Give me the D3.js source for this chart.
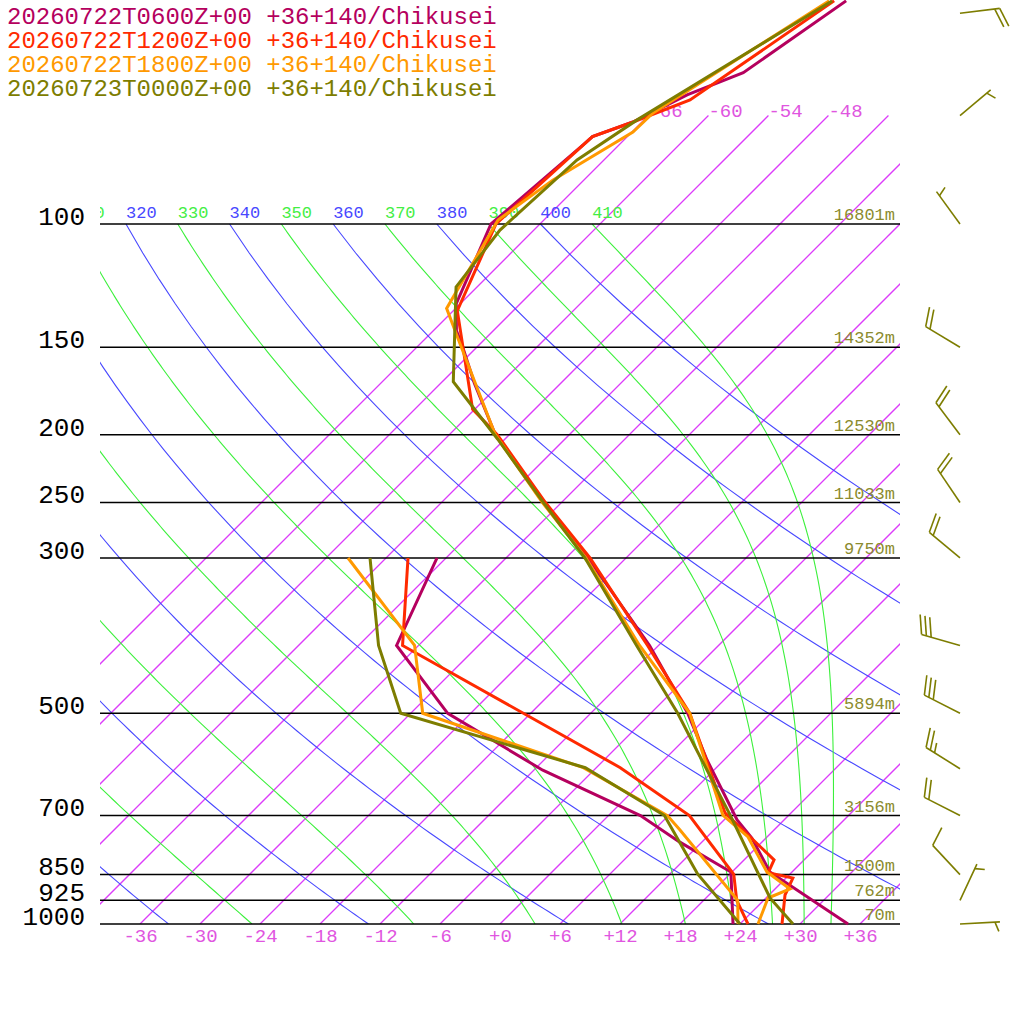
<!DOCTYPE html>
<html>
<head>
<meta charset="UTF-8">
<script src="https://cdn.jsdelivr.net/npm/d3@7"></script>
<style>
  body { margin: 0; padding: 0; background: #fff; }
  svg text { font-family: "Liberation Mono", "DejaVu Sans Mono", monospace; }
</style>
</head>
<body>
<div id="chart"></div>
<script>
// series titles and colours
var titles = ["20260722T0600Z+00 +36+140/Chikusei", "20260722T1200Z+00 +36+140/Chikusei",
              "20260722T1800Z+00 +36+140/Chikusei", "20260723T0000Z+00 +36+140/Chikusei"];
var colors = ["#b5005e", "#ff2a00", "#ff9900", "#7d7d00"];

// temperature profiles: pressure (hPa) and temperature (C)
var tempP = [
  [1000, 843, 754, 710, 583, 500, 400, 300, 250, 199, 169, 150, 142, 130, 100, 77, 75, 71.5, 65.4, 60.8, 48],
  [1000, 909, 860, 845, 810, 694, 500, 400, 300, 250, 200, 184, 133, 100, 75, 71.5, 66.5, 48],
  [1000, 918, 891, 843, 751, 699, 500, 400, 300, 250, 200, 148, 132, 98.7, 86.5, 73.9, 69.4, 48],
  [1000, 918, 700, 500, 400, 300, 250, 203, 168, 123, 102, 81, 71, 48]
];
var tempT = [
  [34.8, 21.8, 16.6, 13.3, 4.3, -2.3, -12.9, -27.8, -37.8, -49.6, -56.6, -61.4, -63.7, -66.4, -70.9, -69.6, -69.5, -66.9, -64.2, -60.8, -57.7],
  [28.2, 25.6, 24.7, 21.7, 21.0, 11.4, -2.1, -13.1, -27.6, -37.6, -49.2, -54.2, -65.6, -70.4, -69.5, -66.9, -63.4, -58.9],
  [25.8, 24.2, 25.5, 21.5, 16.1, 11.4, -2.1, -13.9, -28.0, -37.9, -49.4, -62.1, -66.9, -70.6, -69.1, -65.9, -65.8, -59.4],
  [29.3, 24.4, 12.2, -3.3, -14.2, -28.1, -37.8, -48.7, -58.9, -68.1, -69.4, -68.7, -66.7, -59.1]
];
// dew point profiles
var dewP = [
  [1000, 843, 764, 700, 603, 500, 400, 300],
  [1000, 925, 849, 700, 598, 400, 300],
  [1000, 925, 734, 700, 598, 500, 400, 300],
  [1000, 849, 766, 700, 598, 500, 400, 300]
];
var dewT = [
  [23.3, 17.9, 9.8, 3.2, -11.1, -26.3, -38.2, -42.9],
  [24.8, 21.3, 18.4, 8.1, -3.6, -37.6, -45.8],
  [23.8, 21.4, 8.6, 5.9, -7.3, -28.8, -36.4, -51.8],
  [24.0, 14.8, 9.9, 5.6, -7.1, -31.0, -40.0, -49.6]
];

// pressure levels with heights
var levels = [100, 150, 200, 250, 300, 500, 700, 850, 925, 1000];
var heights = ["16801m", "14352m", "12530m", "11033m", "9750m", "5894m", "3156m", "1500m", "762m", "70m"];

// winds
var windP = [50, 70, 100, 150, 200, 250, 300, 400, 500, 600, 700, 850, 925, 1000];
var windDir = [83, 50, 324, 301, 323, 326, 310, 286, 297, 302, 297, 317, 25, 87];
var windKt = [20, 5, 5, 20, 20, 20, 20, 30, 30, 25, 20, 10, 5, 5];

var tempTicks = d3.range(-36, 37, 6);
var isotherms = d3.range(-66, 37, 6);
var dryTheta = d3.range(240, 401, 20);
var moistTheta = d3.range(250, 411, 20);

var W = 1024, H = 1024;
var svg = d3.select("#chart").append("svg").attr("width", W).attr("height", H);

var y = d3.scaleLog().domain([1000, 100]).range([924, 224]);
var x = d3.scaleLinear().domain([-40, 40]).range([100, 900]);
function sx(T, p) { return x(T) + (924 - y(p)); }

svg.append("defs").append("clipPath").attr("id", "plot")
  .append("rect").attr("x", 100).attr("y", 0).attr("width", 800).attr("height", 924);

var bg = svg.append("g").attr("clip-path", "url(#plot)");

// isotherms
var line = d3.line().x(function(d){ return sx(d[1], d[0]); }).y(function(d){ return y(d[0]); });
bg.selectAll("path.iso").data(isotherms).enter().append("path")
  .attr("class", "iso")
  .attr("d", function(t){ return line([[1000, t], [70, t]]); })
  .attr("fill", "none").attr("stroke", "#dc3cfa").attr("stroke-width", 1.3);
bg.selectAll("text.isolab").data(isotherms.filter(function(d){ return sx(d, 70) < 870; })).enter().append("text")
  .attr("class", "isolab")
  .attr("x", function(d){ return sx(d, 70); }).attr("y", y(70) + 1)
  .attr("font-size", 19).attr("fill", "#e055e0")
  .text(function(d){ return d; });

// dry adiabats
var pr = d3.range(1000, 99, -10);
bg.selectAll("path.dry").data(dryTheta).enter().append("path")
  .attr("class", "dry")
  .attr("d", function(th){ return line(pr.map(function(p){ return [p, th * Math.pow(p / 1000, 0.2857) - 273.15]; })); })
  .attr("fill", "none").attr("stroke", "#4848ff").attr("stroke-width", 1.1);

// moist adiabats, integrated down from 100 hPa
function moist(th) {
  var Rd = 287.04, cp = 1005.7, L = 2.501e6, eps = 0.622;
  var T = th * Math.pow(0.1, 0.2857), p = 100, pts = [[p, T - 273.15]];
  while (p < 1000) {
    var p2 = Math.min(1000, p * 1.01);
    var Tc = T - 273.15;
    var es = 6.112 * Math.exp(17.67 * Tc / (Tc + 243.5));
    var rs = eps * es / (p - es);
    var dTdlnp = (Rd * T + L * rs) / (cp + L * L * rs * eps / (Rd * T * T));
    T += dTdlnp * Math.log(p2 / p);
    p = p2;
    pts.push([p, T - 273.15]);
  }
  return pts;
}
bg.selectAll("path.moist").data(moistTheta).enter().append("path")
  .attr("class", "moist")
  .attr("d", function(th){ return line(moist(th)); })
  .attr("fill", "none").attr("stroke", "#3cf03c").attr("stroke-width", 1.1);

var thLabs = dryTheta.map(function(t){ return {t: t, c: "#4848ff"}; })
  .concat(moistTheta.map(function(t){ return {t: t, c: "#44ee44"}; }))
  .filter(function(d){ return sx(d.t * Math.pow(0.1, 0.2857) - 273.15, 100) > 60; });
bg.selectAll("text.thlab").data(thLabs).enter().append("text")
  .attr("class", "thlab")
  .attr("x", function(d){ return sx(d.t * Math.pow(0.1, 0.2857) - 273.15, 100); })
  .attr("y", 218).attr("font-size", 17).attr("fill", function(d){ return d.c; })
  .text(function(d){ return d.t; });

// pressure lines
svg.selectAll("line.plev").data(levels).enter().append("line")
  .attr("class", "plev")
  .attr("x1", 100).attr("x2", 900)
  .attr("y1", function(d){ return y(d); }).attr("y2", function(d){ return y(d); })
  .attr("stroke", "#000").attr("stroke-width", 1.5);

svg.selectAll("text.hlab").data(levels).enter().append("text")
  .attr("class", "hlab")
  .attr("x", 895).attr("y", function(d){ return y(d) - 4; })
  .attr("text-anchor", "end").attr("font-size", 17).attr("fill", "#8b8b2e")
  .text(function(d, i){ return heights[i]; });

// axes
var yAxis = d3.axisLeft(y).tickValues(levels).tickSize(0).tickFormat(d3.format("d"));
var gy = svg.append("g").attr("transform", "translate(88,-8)").call(yAxis);
gy.select(".domain").remove();
gy.selectAll("text").attr("font-size", 26).attr("fill", "#000")
  .style("font-family", "Liberation Mono, monospace");

var xAxis = d3.axisBottom(x).tickValues(tempTicks).tickSize(0)
  .tickFormat(function(d){ return (d >= 0 ? "+" : "") + d; });
var gx = svg.append("g").attr("transform", "translate(0,926)").call(xAxis);
gx.select(".domain").remove();
gx.selectAll("text").attr("font-size", 19).attr("fill", "#e055e0")
  .style("font-family", "Liberation Mono, monospace");

// profiles
titles.forEach(function(t, i) {
  var tp = tempP[i].map(function(p, j){ return [p, tempT[i][j]]; });
  var dp = dewP[i].map(function(p, j){ return [p, dewT[i][j]]; });
  [tp, dp].forEach(function(pts) {
    svg.append("path").attr("d", line(pts))
      .attr("fill", "none").attr("stroke", colors[i]).attr("stroke-width", 3);
  });
});

// titles
svg.selectAll("text.title").data(titles).enter().append("text")
  .attr("class", "title")
  .attr("x", 7).attr("y", function(d, i){ return 24 + i * 24; })
  .attr("font-size", 24).attr("fill", function(d, i){ return colors[i]; })
  .text(function(d){ return d; });

// wind barbs
var staff = 40, full = 20, gap = 5;
var rot = 70 * Math.PI / 180;
windP.forEach(function(p, i) {
  var bx = 960, by = y(p);
  var a = windDir[i] * Math.PI / 180;
  var ux = Math.sin(a), uy = -Math.cos(a);
  var vx = ux * Math.cos(rot) - uy * Math.sin(rot), vy = ux * Math.sin(rot) + uy * Math.cos(rot);
  var tx = bx + ux * staff, ty = by + uy * staff;
  var g = svg.append("g").attr("stroke", "#7d7d00").attr("stroke-width", 1.6).attr("fill", "none");
  g.append("line").attr("x1", bx).attr("y1", by).attr("x2", tx).attr("y2", ty);
  var s = windKt[i], k = 0;
  while (s >= 10) {
    var px = tx - ux * gap * k, py = ty - uy * gap * k;
    g.append("line").attr("x1", px).attr("y1", py).attr("x2", px + vx * full).attr("y2", py + vy * full);
    s -= 10; k++;
  }
  if (s >= 5) {
    if (k === 0) k = 1;
    var hx = tx - ux * gap * k, hy = ty - uy * gap * k;
    g.append("line").attr("x1", hx).attr("y1", hy).attr("x2", hx + vx * full / 2).attr("y2", hy + vy * full / 2);
  }
});
</script>
</body>
</html>
